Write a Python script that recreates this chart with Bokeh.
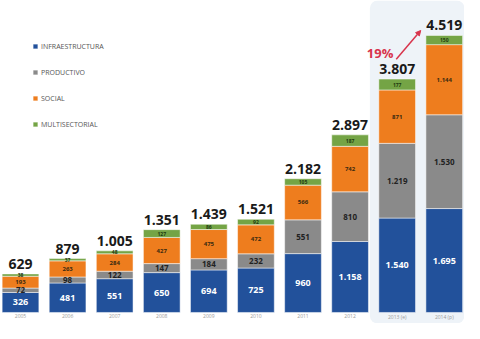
from bokeh.plotting import figure
from bokeh.models import ColumnDataSource, Legend, LegendItem, BoxAnnotation, Arrow, NormalHead, Label
from bokeh.core.properties import value
from bokeh.embed import file_html
from bokeh.resources import INLINE

years = ["2005", "2006", "2007", "2008", "2009", "2010", "2011", "2012", "2013 (e)", "2014 (p)"]
infraestructura = [326, 481, 551, 650, 694, 725, 960, 1158, 1540, 1695]
productivo = [72, 98, 122, 147, 184, 232, 551, 810, 1219, 1530]
social = [193, 263, 284, 427, 475, 472, 566, 742, 871, 1144]
multisectorial = [38, 37, 48, 127, 86, 92, 105, 187, 177, 150]
totals = [629, 879, 1005, 1351, 1439, 1521, 2182, 2897, 3807, 4519]
growth_label = "19%"

series = ["infraestructura", "productivo", "social", "multisectorial"]
names = ["INFRAESTRUCTURA", "PRODUCTIVO", "SOCIAL", "MULTISECTORIAL"]
colors = ["#22519b", "#8a8a8a", "#ee7d1e", "#74a445"]
label_colors = ["white", "#222222", "#3a2a10", "#1e3a10"]
label_sizes = ["9px", "8px", "6px", "5px"]

def fmt(v):
    return f"{v:,}".replace(",", ".")

x = list(range(len(years)))
src = ColumnDataSource(dict(x=x, infraestructura=infraestructura, productivo=productivo,
                            social=social, multisectorial=multisectorial))

p = figure(width=464, height=323, output_backend="svg", toolbar_location=None,
           x_range=(-0.425, 9.43), y_range=(-180, 5089), min_border=0,
           min_border_left=0, min_border_right=0, min_border_top=0, min_border_bottom=0)
p.outline_line_color = None
p.grid.visible = False
p.axis.visible = False

p.add_layout(BoxAnnotation(left=7.42, fill_color="#eef3f8", fill_alpha=1.0,
                           line_color=None, border_radius=8, level="underlay"))

rs = p.vbar_stack(series, x="x", width=0.78, color=colors, line_color="white",
                  line_width=0.5, source=src)

# category labels under the bars
ysrc = ColumnDataSource(dict(x=x, y=[0] * len(x), t=years))
p.text(x="x", y="y", text="t", source=ysrc, text_align="center", text_baseline="top",
       y_offset=2, text_font=value("Open Sans"), text_font_size="5px", text_color="#9a9a9a")

# segment labels
bottoms = [0] * len(x)
for s, vals, lc, ls in zip(series, [infraestructura, productivo, social, multisectorial], label_colors, label_sizes):
    mids = [b + v / 2 for b, v in zip(bottoms, vals)]
    lsrc = ColumnDataSource(dict(x=x, y=mids, t=[fmt(v) for v in vals]))
    p.text(x="x", y="y", text="t", source=lsrc, text_align="center", text_baseline="middle",
           text_font=value("Open Sans"), text_font_style="bold", text_font_size=ls, text_color=lc)
    bottoms = [b + v for b, v in zip(bottoms, vals)]

# totals
tsrc = ColumnDataSource(dict(x=x, y=bottoms, t=[fmt(v) for v in totals]))
p.text(x="x", y="y", text="t", source=tsrc, text_align="center", text_baseline="bottom",
       y_offset=-5, text_font=value("Open Sans"), text_font_style="bold",
       text_font_size="14px", text_color="#1a1a1a")

# growth arrow
p.add_layout(Arrow(end=NormalHead(size=5, fill_color="#d8344c", line_color="#d8344c"),
                   x_start=7.98, y_start=4130, x_end=8.5, y_end=4600,
                   line_color="#d8344c", line_width=1.5))
p.add_layout(Label(x=7.92, y=4230, text=growth_label, text_align="right", text_baseline="middle",
                   text_font="Open Sans", text_font_style="bold", text_font_size="13px",
                   text_color="#d8344c"))

legend = Legend(items=[LegendItem(label=n, renderers=[r]) for n, r in zip(names, rs)],
                location=(32, 194), orientation="vertical", glyph_width=6, glyph_height=6,
                label_height=10, spacing=16, padding=0, margin=0, label_standoff=3,
                label_text_font="Open Sans", label_text_font_size="7px",
                label_text_color="#555555", border_line_color=None,
                background_fill_alpha=0)
p.add_layout(legend)

open("out.html", "w").write(file_html(p, INLINE))
